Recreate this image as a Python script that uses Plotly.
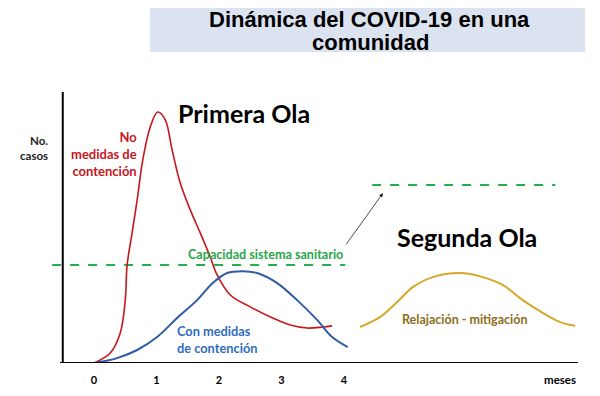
import plotly.graph_objects as go

# ---- data (x in months, y in relative number of cases) ----
red_x = [0.0, 0.26, 0.42, 0.50, 0.53, 0.61, 0.69, 0.78, 0.90, 1.02, 1.14, 1.25, 1.38, 1.54, 1.70, 1.86, 1.97, 2.18, 2.50, 2.86, 3.14, 3.41, 3.66, 3.81]
red_y = [0.0, 3.7, 11.1, 23.2, 36.2, 48.0, 60.1, 74.9, 87.1, 92.6, 89.7, 78.6, 66.4, 56.5, 48.0, 39.1, 32.5, 25.1, 20.7, 16.6, 14.0, 12.9, 13.3, 13.7]

blue_x = [0.0, 0.37, 0.69, 1.01, 1.33, 1.65, 1.90, 2.13, 2.38, 2.61, 2.93, 3.25, 3.57, 3.81, 4.06]
blue_y = [0.0, 1.8, 4.8, 9.6, 16.6, 23.2, 29.5, 33.2, 33.9, 33.2, 29.5, 23.2, 15.9, 9.6, 5.9]

yellow_x = [4.26, 4.58, 4.85, 5.10, 5.42, 5.86, 6.22, 6.54, 6.86, 7.18, 7.46, 7.70]
yellow_y = [13.3, 17.0, 22.5, 28.0, 31.7, 33.2, 31.7, 28.8, 23.2, 18.5, 15.1, 13.7]

capacity_1_x = [-0.67, 4.02]
capacity_1_y = [36.2, 36.2]
capacity_2_x = [4.45, 7.38]
capacity_2_y = [65.7, 65.7]

tick_vals = [0, 1, 2, 3, 4]
tick_text = ["0", "1", "2", "3", "4"]

title_lines = ["Dinámica del COVID-19 en una", "comunidad"]

# ---- layout geometry ----
W, H = 600, 396
ML, MR, MT, MB = 40, 10, 60, 33
PW, PH = W - ML - MR, H - MT - MB


def px(xp):
    return (xp - ML) / PW


def py(yp):
    return (H - MB - yp) / PH


FONT = "Lato"
RED = "#c8161d"
BLUE = "#2e5d9f"
BLUE_T = "#2e6cc0"
GREEN = "#22b14c"
GREEN_T = "#2aa64a"
GOLD = "#d4a82a"
GOLD_T = "#8c6d1c"

fig = go.Figure()

fig.add_trace(go.Scatter(x=capacity_1_x, y=capacity_1_y, mode="lines",
                         line=dict(color=GREEN, width=2, dash="dash"), hoverinfo="skip"))
fig.add_trace(go.Scatter(x=capacity_2_x, y=capacity_2_y, mode="lines",
                         line=dict(color=GREEN, width=2, dash="dash"), hoverinfo="skip"))
fig.add_trace(go.Scatter(x=red_x, y=red_y, mode="lines",
                         line=dict(color=RED, width=1.6, shape="spline", smoothing=1.0)))
fig.add_trace(go.Scatter(x=blue_x, y=blue_y, mode="lines",
                         line=dict(color=BLUE, width=2, shape="spline", smoothing=1.0)))
fig.add_trace(go.Scatter(x=yellow_x, y=yellow_y, mode="lines",
                         line=dict(color=GOLD, width=2, shape="spline", smoothing=1.0)))

# axis lines
fig.add_shape(type="line", xref="x", yref="y", x0=-0.5, x1=-0.5, y0=0, y1=100,
              line=dict(color="black", width=2))
fig.add_shape(type="line", xref="x", yref="y", x0=-0.544, x1=7.744, y0=0, y1=0,
              line=dict(color="black", width=2.2), layer="above")
# title box
fig.add_shape(type="rect", xref="paper", yref="paper", x0=px(150), x1=px(585), y0=py(52), y1=py(8),
              fillcolor="#dce3f0", line=dict(width=0), layer="below")

ann = []
ann.append(dict(xref="paper", yref="paper", x=px(369), y=py(19), text="<b>" + title_lines[0] + "</b>",
                showarrow=False, font=dict(family="Liberation Sans", size=22, color="black"),
                xanchor="center", yanchor="middle", height=22, borderpad=0))
ann.append(dict(xref="paper", yref="paper", x=px(370), y=py(42), text="<b>" + title_lines[1] + "</b>",
                showarrow=False, font=dict(family="Liberation Sans", size=22, color="black"),
                xanchor="center", yanchor="middle", height=22, borderpad=0))
ann.append(dict(x=-0.70, y=79.3, text="<b>No.<br>casos</b>", showarrow=False,
                xanchor="right", align="right", font=dict(family=FONT, size=11.5, color="#222")))
ann.append(dict(x=0.72, y=77.1, text="<b>No<br>medidas de<br>contención</b>", showarrow=False,
                xanchor="right", align="right", font=dict(family=FONT, size=13, color=RED)))
ann.append(dict(x=2.4, y=92.3, text="<b>Primera Ola</b>", showarrow=False,
                font=dict(family=FONT, size=25, color="black")))
ann.append(dict(x=2.74, y=39.9, text="<b>Capacidad sistema sanitario</b>", showarrow=False,
                font=dict(family=FONT, size=12.6, color=GREEN_T)))
ann.append(dict(x=1.30, y=8.5, text="<b>Con medidas<br>de contención</b>", showarrow=False,
                xanchor="left", align="left", font=dict(family=FONT, size=12.8, color=BLUE_T)))
ann.append(dict(x=5.97, y=46.5, text="<b>Segunda Ola</b>", showarrow=False,
                font=dict(family=FONT, size=25, color="black")))
ann.append(dict(x=5.94, y=15.9, text="<b>Relajación - mitigación</b>", showarrow=False,
                font=dict(family=FONT, size=12.5, color=GOLD_T)))
ann.append(dict(xref="paper", yref="paper", x=px(560), y=py(380), text="<b>meses</b>", showarrow=False,
                xanchor="center", yanchor="middle",
                font=dict(family=FONT, size=11.5, color="black")))
# arrow
ann.append(dict(x=4.624, y=62.7, ax=4.016, ay=43.2, axref="x", ayref="y", text="",
                showarrow=True, arrowhead=2, arrowsize=1, arrowwidth=0.8, arrowcolor="#222"))

fig.update_layout(
    width=W, height=H,
    margin=dict(l=ML, r=MR, t=MT, b=MB),
    paper_bgcolor="white", plot_bgcolor="white",
    showlegend=False,
    annotations=ann,
    xaxis=dict(range=[(ML - 94) / 62.5, (W - MR - 94) / 62.5], showgrid=False, zeroline=False,
               showline=False, tickmode="array", tickvals=tick_vals, ticktext=tick_text,
               ticks="", ticklabelstandoff=9,
               tickfont=dict(family=FONT, size=11, color="black", weight="bold")),
    yaxis=dict(range=[0, PH / 2.71], showgrid=False, zeroline=False, showline=False,
               showticklabels=False, ticks=""),
)

fig.write_html("out.html", config={"displayModeBar": False},
               post_script="document.body.style.margin='0';")
